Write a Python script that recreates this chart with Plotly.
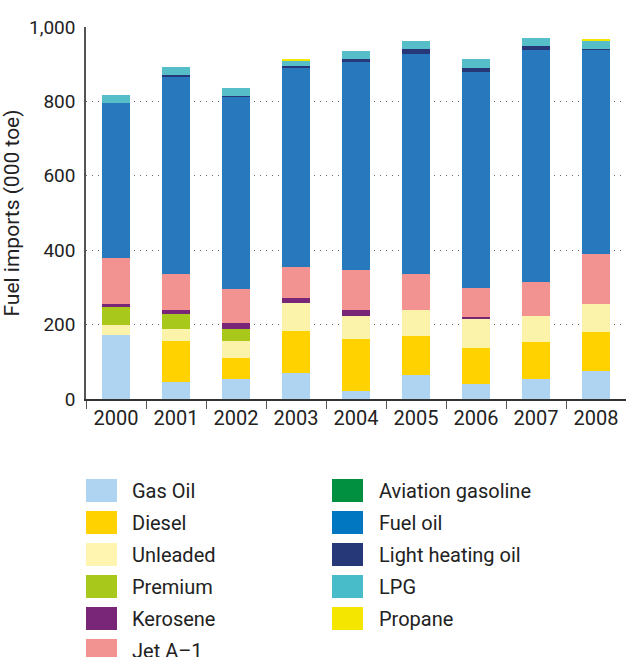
import plotly.graph_objects as go

years = ["2000", "2001", "2002", "2003", "2004", "2005", "2006", "2007", "2008"]

gas_oil = [172, 47, 54, 70, 22, 64, 40, 54, 74]
diesel = [0, 109, 56, 113, 139, 106, 97, 99, 106]
unleaded = [27, 32, 46, 75, 62, 69, 78, 70, 76]
premium = [49, 41, 32, 0, 0, 0, 0, 0, 0]
kerosene = [8, 10, 16, 14, 16, 0, 6, 0, 0]
jet_a1 = [123, 97, 92, 83, 108, 97, 78, 92, 134]
aviation_gasoline = [0, 0, 0, 0, 0, 0, 0, 0, 0]
fuel_oil = [417, 530, 516, 536, 560, 592, 581, 624, 549]
light_heating_oil = [0, 6, 3, 5, 8, 14, 11, 11, 3]
lpg = [22, 21, 22, 13, 21, 21, 24, 21, 21]
propane = [0, 0, 0, 6, 0, 0, 0, 0, 6]

series_names = ["Gas Oil", "Diesel", "Unleaded", "Premium", "Kerosene", "Jet A\u20131",
                "Aviation gasoline", "Fuel oil", "Light heating oil", "LPG", "Propane"]
series_values = [gas_oil, diesel, unleaded, premium, kerosene, jet_a1,
                 aviation_gasoline, fuel_oil, light_heating_oil, lpg, propane]
bar_colors = ["#AED4F2", "#FFD200", "#FAF3A9", "#A8C81C", "#7A2678", "#F29392",
              "#009040", "#2878BE", "#263878", "#55BEC8", "#F5E600"]
legend_colors = ["#AED4F2", "#FFD200", "#FFF5B0", "#A8C81C", "#7A2678", "#F29392",
                 "#009040", "#0077C0", "#263878", "#48BCC8", "#F5E600"]

y_ticks = [0, 200, 400, 600, 800, 1000]
y_tick_text = ["0", "200", "400", "600", "800", "1,000"]

FONT = "Roboto"
W, H = 626, 657
L, R, T, B = 86, 0, 27, 258

fig = go.Figure()
for name, vals, col in zip(series_names, series_values, bar_colors):
    fig.add_trace(go.Bar(x=years, y=vals, name=name, marker=dict(color=col, line=dict(width=0)),
                         showlegend=False))

# custom legend
pw = W - L - R
ph = H - T - B
def px_x(x):
    return (x - L) / pw
def px_y(y):
    return (H - B - y) / ph

shapes = []
annotations = []
row_y = [490.5, 522.5, 554.5, 586.5, 618.5, 650.5]
for i, (name, col) in enumerate(zip(series_names, legend_colors)):
    if i < 6:
        cx, row = 86, i
        tx = 130
    else:
        cx, row = 332, i - 6
        tx = 377
    cy = row_y[row]
    shapes.append(dict(type="rect", xref="paper", yref="paper",
                       x0=px_x(cx), x1=px_x(cx + 31), y0=px_y(cy + 11.5), y1=px_y(cy - 11.5),
                       fillcolor=col, line=dict(width=0), layer="above"))
    annotations.append(dict(xref="paper", yref="paper", x=px_x(tx), y=px_y(cy),
                            xanchor="left", yanchor="middle", text=name, showarrow=False,
                            font=dict(family=FONT, size=20, color="#222222")))

fig.update_layout(
    width=W, height=H,
    margin=dict(l=L, r=R, t=T, b=B, autoexpand=False),
    barmode="stack",
    bargap=0.545,
    plot_bgcolor="white", paper_bgcolor="white",
    font=dict(family=FONT, color="#222222"),
    shapes=shapes,
    annotations=annotations,
    xaxis=dict(showline=True, linecolor="#333333", linewidth=1.5,
               ticks="outside", tickson="boundaries", ticklen=8, tickcolor="#555555",
               tickfont=dict(size=20, family=FONT, color="#222222"),
               showgrid=False, fixedrange=True, automargin=False),
    yaxis=dict(range=[0, 1000], tickvals=y_ticks, ticktext=y_tick_text,
               showline=True, linecolor="#555555", linewidth=1.5,
               showgrid=True, gridcolor="#666666", griddash="1px,5px", gridwidth=1,
               zeroline=False, ticks="", ticklabelstandoff=5, automargin=False,
               fixedrange=True,
               tickfont=dict(size=19, family=FONT, color="#222222"),
               title=dict(text="Fuel imports (000 toe)", font=dict(size=21, family=FONT, color="#222222"),
                          standoff=8)),
)

fig.write_html("out.html", config={"displayModeBar": False},
               post_script="document.body.style.margin='0';document.body.style.padding='0';")
